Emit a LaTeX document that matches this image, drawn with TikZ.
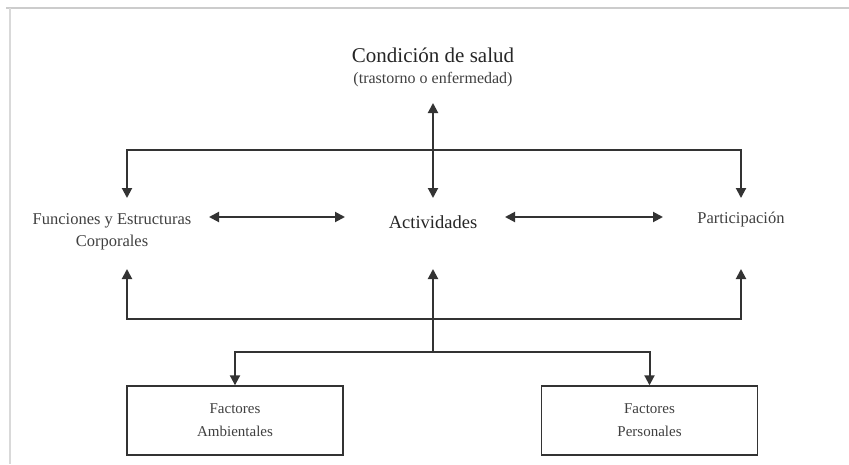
\documentclass[tikz,border=0pt]{standalone}
\usepackage{fontspec}
\setmainfont{Liberation Serif}
\usetikzlibrary{arrows.meta}
\begin{document}
\begin{tikzpicture}[x=1pt,y=-1pt,
  conn/.style={draw=black!80, line width=2pt},
  arr/.style={conn, -{Triangle[length=10pt,width=10pt]}},
  darr/.style={conn, {Triangle[length=10pt,width=10pt]}-{Triangle[length=10pt,width=10pt]}},
  lbl/.style={inner sep=0pt, align=center, text=black!75},
  box/.style={draw=black!80, line width=1.4pt, minimum width=216pt, minimum height=69pt, align=center, inner sep=0pt, text=black!75, font=\fontsize{15}{23}\selectfont}]
\useasboundingbox (0,0) rectangle (849,464);
\fill[white] (0,0) rectangle (849,464);
% frame
\draw[black!20, line width=2pt] (6,8) -- (849,8);
\draw[black!15, line width=2pt] (10,8) -- (10,464);
% texts
\node[lbl, font=\fontsize{21}{23}\selectfont, text=black!85] (cond) at (433,55) {Condición de salud};
\node[lbl, font=\fontsize{16}{18}\selectfont] (tras) at (433,80) {(trastorno o enfermedad)};
\node[lbl, font=\fontsize{16.5}{22}\selectfont] (func) at (112,232) {Funciones y Estructuras\\Corporales};
\node[lbl, font=\fontsize{18.5}{20}\selectfont, text=black!85] (act) at (433,222) {Actividades};
\node[lbl, font=\fontsize{16.5}{18}\selectfont] (part) at (741,220) {Participación};
\node[box] (amb) at (235,420.5) {Factores\\Ambientales};
\node[box] (pers) at (649.5,420.5) {Factores\\Personales};
% coordinates
\coordinate (tA) at (433,103);
\coordinate (tB) at (433,198);
\coordinate (busT) at (433,150);
\coordinate (funTop) at (127,198);
\coordinate (partTop) at (741,198);
\coordinate (busB) at (433,319);
\coordinate (split) at (433,352);
\coordinate (funBot) at (127,269);
\coordinate (actBot) at (433,269);
\coordinate (partBot) at (741,269);
\coordinate (hL1) at (209,217);
\coordinate (hL2) at (345,217);
\coordinate (hR1) at (505,217);
\coordinate (hR2) at (663,217);
% connectors
\draw[darr] (tA) -- (tB);
\draw[arr] (busT) -| (funTop);
\draw[arr] (busT) -| (partTop);
\draw[darr] (hL1) -- (hL2);
\draw[darr] (hR1) -- (hR2);
\draw[arr] (split) -- (actBot);
\draw[arr] (busB) -| (funBot);
\draw[arr] (busB) -| (partBot);
\draw[arr] (split) -| (amb.north);
\draw[arr] (split) -| (pers.north);
\end{tikzpicture}
\end{document}
